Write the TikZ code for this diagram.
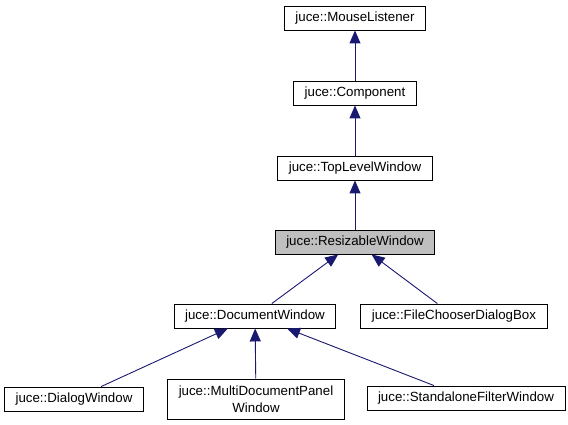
\documentclass[tikz,border=0pt]{standalone}
\usepackage{fontspec}
\setmainfont{Liberation Sans}
\usetikzlibrary{arrows.meta}

\definecolor{edgeblue}{RGB}{25,25,112}

\begin{document}
\begin{tikzpicture}[x=1pt,y=-1pt]
   \tikzset{cls/.style={draw=black, line width=0.9pt, rectangle, fill=white, minimum height=24pt, inner xsep=11pt, inner ysep=2pt, align=center, font=\fontsize{13.3}{16.5}\selectfont},
            inh/.style={draw=edgeblue, line width=0.9pt, -{Triangle[length=13pt,width=11pt,fill=edgeblue]}}};

\useasboundingbox (0,0) rectangle (568,425);

\node[cls] (0) at (355,18) {juce::MouseListener};
\node[cls] (1) at (355,93) {juce::Component};
\node[cls] (2) at (355,168) {juce::TopLevelWindow};
\node[cls,fill=black!25] (3) at (355,242) {juce::ResizableWindow};

\node[cls] (4) at (255,316) {juce::DocumentWindow};
\node[cls] (5) at (454,316) {juce::FileChooserDialogBox};

\node[cls] (6) at (74,399) {juce::DialogWindow};
\node[cls,minimum height=40pt] (7) at (256,399) {juce::MultiDocumentPanel\\Window};
\node[cls] (8) at (466,398) {juce::StandaloneFilterWindow};

%Einh--------------------------

\draw[inh] (1) -- (0);
\draw[inh] (2) -- (1);
\draw[inh] (3) -- (2);

\draw[inh] (4) -- (3);
\draw[inh] (5) -- (3);

\foreach \i in {6,7,8}{
    \draw[inh] (\i) -- (4);
}

\end{tikzpicture}
\end{document}
